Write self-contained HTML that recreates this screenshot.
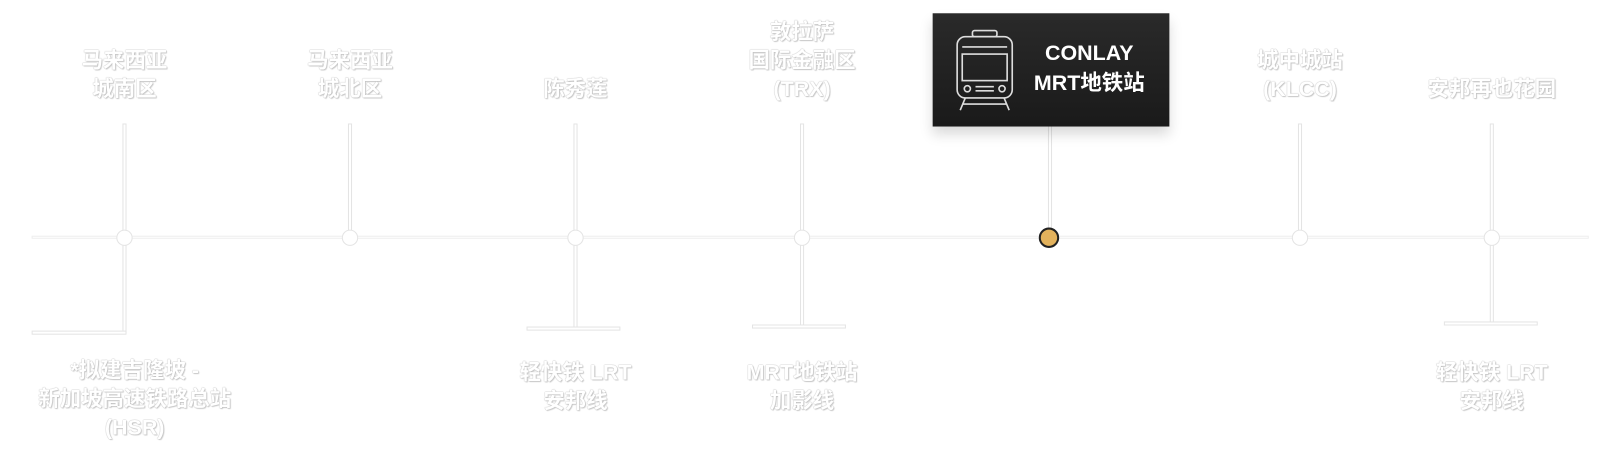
<!DOCTYPE html>
<html><head><meta charset="utf-8"><style>
body{margin:0;width:1600px;height:452px;background:#fff;position:relative;overflow:hidden;font-family:"Liberation Sans","Noto Sans CJK SC",sans-serif}
#w{position:absolute;left:0;top:0;width:1568px;height:443px;transform:scale(1.0204);transform-origin:0 0}
.l{position:absolute;background:#fff;box-shadow:0 0 0 1px #e4e4e4}
.t{position:absolute;width:260px;text-align:center;color:#fff;font-size:21px;font-weight:bold;line-height:28px;text-shadow:0 0 1px #bbb,0 0 1px #bbb,1px 1px 1px #ccc}
.d{position:absolute;width:14px;height:14px;border-radius:50%;background:#fff;box-shadow:0 0 0 1px #e4e4e4}
</style></head><body><div id="w">
<div class="l" style="left:32px;top:232px;width:1524px;height:1px;box-shadow:0 0 0 1px #eee"></div>
<div class="l" style="left:121px;top:122px;width:2px;height:204px"></div>
<div class="l" style="left:32px;top:325px;width:91px;height:2px"></div>
<div class="l" style="left:342px;top:122px;width:2px;height:110px"></div>
<div class="l" style="left:563px;top:122px;width:2px;height:200px"></div>
<div class="l" style="left:517px;top:321px;width:90px;height:2px"></div>
<div class="l" style="left:785px;top:122px;width:2px;height:198px"></div>
<div class="l" style="left:738px;top:319px;width:90px;height:2px"></div>
<div class="l" style="left:1028px;top:124px;width:2px;height:108px"></div>
<div class="l" style="left:1273px;top:122px;width:2px;height:110px"></div>
<div class="l" style="left:1461px;top:122px;width:2px;height:195px"></div>
<div class="l" style="left:1416px;top:316px;width:90px;height:2px"></div>
<div class="d" style="left:115px;top:226px"></div>
<div class="d" style="left:336px;top:226px"></div>
<div class="d" style="left:557px;top:226px"></div>
<div class="d" style="left:779px;top:226px"></div>
<div class="d" style="left:1267px;top:226px"></div>
<div class="d" style="left:1455px;top:226px"></div>
<div style="position:absolute;left:1018px;top:223px;width:20px;height:20px;border-radius:50%;background:#e3b25c;border:2px solid #222;box-sizing:border-box"></div>
<div style="position:absolute;left:914px;top:13px;width:232px;height:111px;background:linear-gradient(#2a2a2a,#1a1a1a);box-shadow:0 8px 12px rgba(0,0,0,.15)"></div>
<svg style="position:absolute;left:936px;top:28px" width="58" height="82" viewBox="0 0 58 82" fill="none" stroke="#ddd" stroke-width="1.6">
<rect x="17" y="2" width="24" height="6" rx="2"/><rect x="2" y="8" width="54" height="60" rx="8"/><rect x="7" y="25" width="44" height="26"/><line x1="7" y1="18" x2="51" y2="18"/><circle cx="12" cy="59" r="3"/><circle cx="46" cy="59" r="3"/><line x1="20" y1="57" x2="38" y2="57"/><line x1="20" y1="61" x2="38" y2="61"/><path d="M10 68 L5 80 M48 68 L53 80 M8 74 H50"/>
</svg>
<div style="position:absolute;left:1000px;top:38px;width:135px;text-align:center;color:#fff;font-size:21px;font-weight:bold;line-height:29px">CONLAY<br>MRT地铁站</div>
<div class="t" style="left:-8px;top:46px">马来西亚<br>城南区</div>
<div class="t" style="left:213px;top:46px">马来西亚<br>城北区</div>
<div class="t" style="left:434px;top:74px">陈秀莲</div>
<div class="t" style="left:656px;top:18px">敦拉萨<br>国际金融区<br>(TRX)</div>
<div class="t" style="left:1144px;top:46px">城中城站<br>(KLCC)</div>
<div class="t" style="left:1332px;top:74px">安邦再也花园</div>
<div class="t" style="left:2px;top:350px">*拟建吉隆坡 -<br>新加坡高速铁路总站<br>(HSR)</div>
<div class="t" style="left:434px;top:352px">轻快铁 LRT<br>安邦线</div>
<div class="t" style="left:656px;top:352px">MRT地铁站<br>加影线</div>
<div class="t" style="left:1332px;top:352px">轻快铁 LRT<br>安邦线</div>
</div></body></html>
